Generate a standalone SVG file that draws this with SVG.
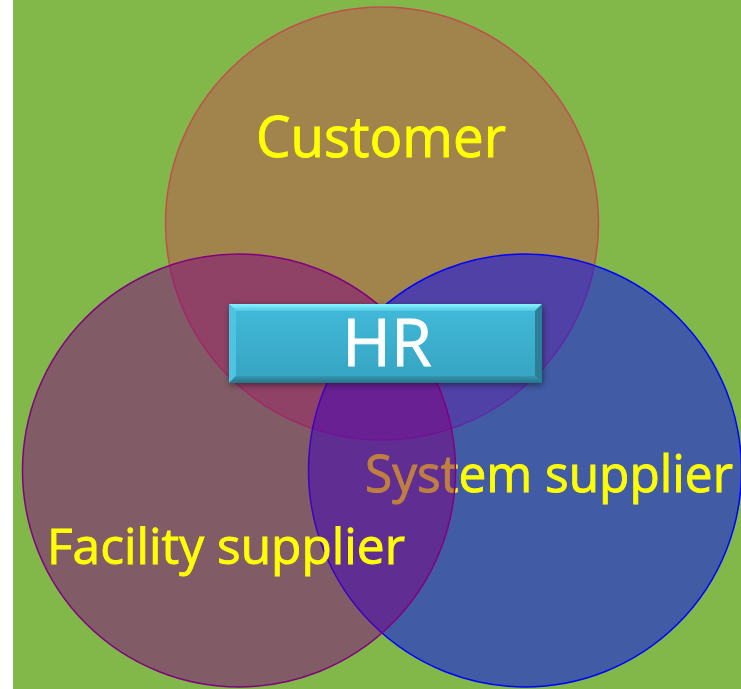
<svg xmlns="http://www.w3.org/2000/svg" width="741" height="689" viewBox="0 0 741 689">
  <style>
    .circle { stroke-width: 1.5; fill-opacity: 0.5; }
    .label { font-family: "Open Sans", "Noto Sans", "DejaVu Sans", sans-serif; fill: #FFFF00; stroke: #FFFF00; stroke-width: 0.9; }
    .hr { font-family: "Open Sans", "Noto Sans", "DejaVu Sans", sans-serif; fill: #FFFFFF; stroke: #FFFFFF; stroke-width: 0.9; font-size: 66px; text-anchor: middle; }
  </style>
  <defs>
    <linearGradient id="face" x1="0" y1="0" x2="0" y2="1">
      <stop offset="0" stop-color="#42BADA"/>
      <stop offset="1" stop-color="#36A3C1"/>
    </linearGradient>
    <linearGradient id="topBevel" x1="0" y1="0" x2="0" y2="1">
      <stop offset="0" stop-color="#8AF4FF"/>
      <stop offset="1" stop-color="#50C8E4"/>
    </linearGradient>
    <linearGradient id="botBevel" x1="0" y1="0" x2="0" y2="1">
      <stop offset="0" stop-color="#3597B2"/>
      <stop offset="1" stop-color="#267488"/>
    </linearGradient>
    <filter id="shadow" x="-10%" y="-30%" width="120%" height="160%">
      <feDropShadow dx="1" dy="2" stdDeviation="3" flood-color="#000000" flood-opacity="0.45"/>
    </filter>
  </defs>

  <rect x="0" y="0" width="741" height="689" fill="#FFFFFF"/>
  <rect x="13" y="0" width="728" height="689" fill="#82B74A"/>

  <g id="customer">
    <circle class="circle" cx="382" cy="223.5" r="216.5" fill="#C0504D" stroke="#C0504D"/>
    <text class="label" x="256" y="157" font-size="56" textLength="250" lengthAdjust="spacingAndGlyphs">Customer</text>
  </g>

  <g id="system-supplier">
    <circle class="circle" cx="525" cy="470.5" r="216.5" fill="#0000FF" stroke="#0000FF"/>
    <text class="label" x="365" y="492" font-size="52" textLength="368" lengthAdjust="spacingAndGlyphs">System supplier</text>
  </g>

  <g id="facility-supplier">
    <circle class="circle" cx="239" cy="470.5" r="216.5" fill="#800080" stroke="#800080"/>
    <text class="label" x="47" y="564" font-size="50" textLength="358" lengthAdjust="spacingAndGlyphs">Facility supplier</text>
  </g>

  <g id="hr">
    <g filter="url(#shadow)">
      <rect x="229" y="304" width="313" height="79" rx="2" fill="url(#face)"/>
    </g>
    <polygon points="229,304 542,304 535,311 236,311" fill="url(#topBevel)"/>
    <polygon points="229,304 236,311 236,376 229,383" fill="#4CC4E2"/>
    <polygon points="542,304 542,383 535,376 535,311" fill="#2A7F96"/>
    <polygon points="229,383 542,383 535,376 236,376" fill="url(#botBevel)"/>
    <text class="hr" x="387" y="366">HR</text>
  </g>

  <g id="connectors"/>
</svg>
